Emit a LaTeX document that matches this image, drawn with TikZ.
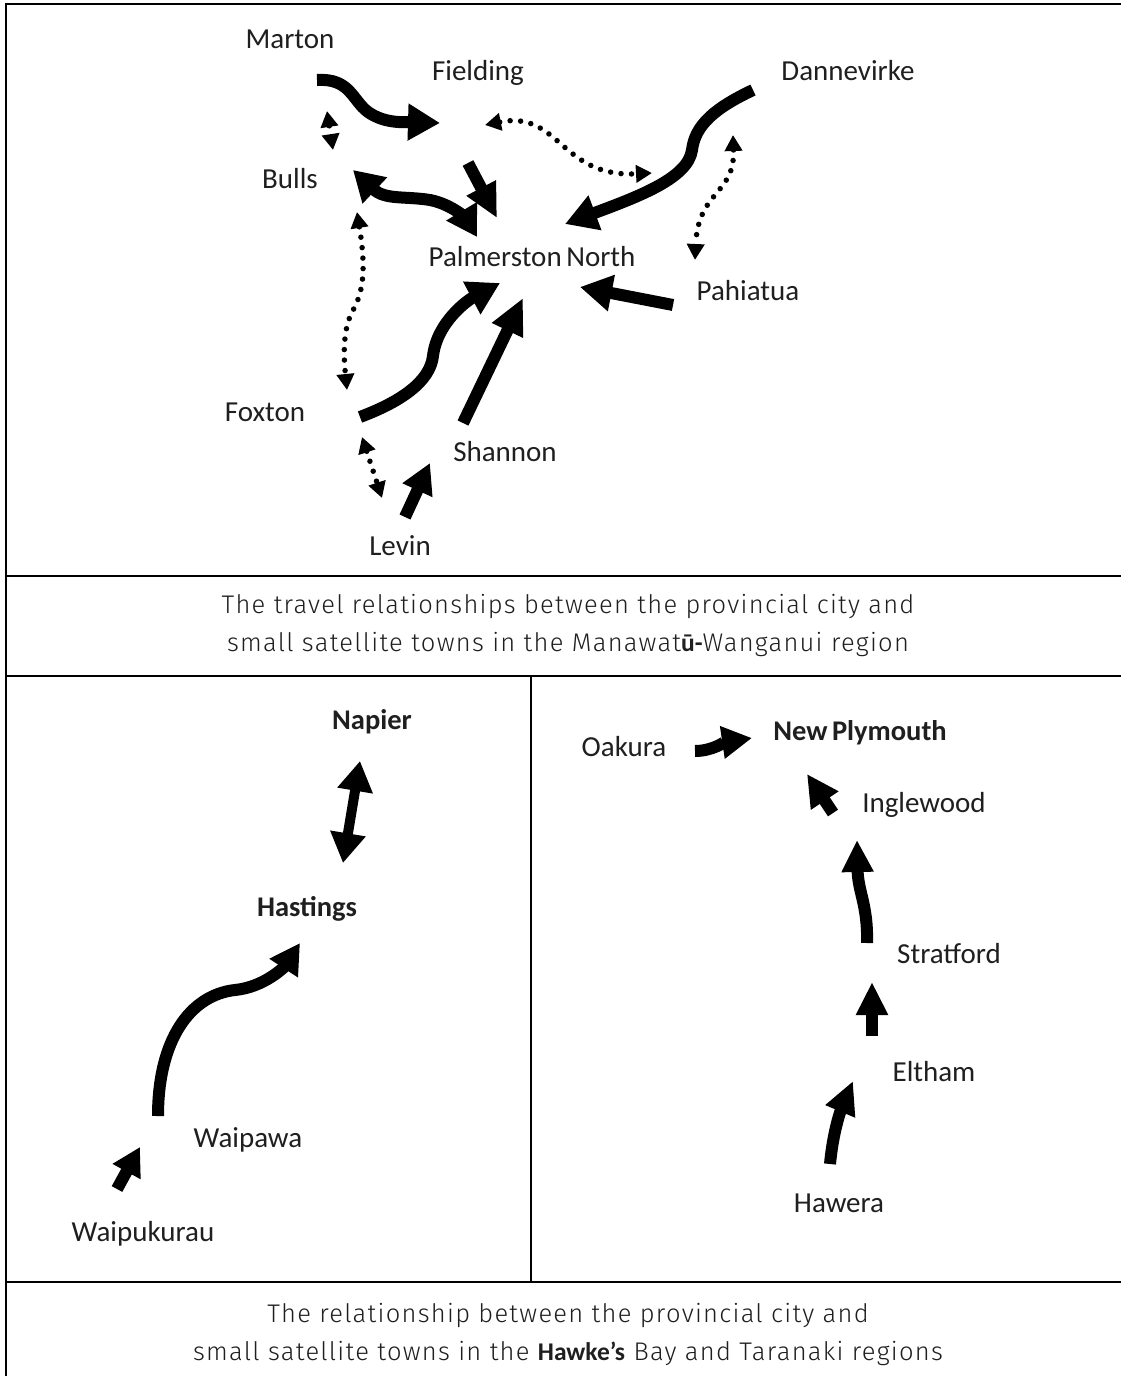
\documentclass[tikz,border=0pt]{standalone}
\usepackage{fontspec}
\setmainfont{Carlito}
\newfontfamily\capfont{Fira Sans Light}[LetterSpace=5]
\usetikzlibrary{arrows.meta}
\begin{document}
\begin{tikzpicture}[x=1bp,y=-1bp]
\tikzset{
  town/.style={anchor=base, inner sep=0pt, text=black!88, font=\fontsize{29bp}{32bp}\selectfont},
  city/.style={town, font=\fontsize{28.5bp}{32bp}\selectfont\bfseries},
  caption/.style={align=center, inner sep=0pt, text=black!88, font=\capfont\fontsize{25.5bp}{38bp}\selectfont},
  rule/.style={line width=2.2bp, black},
  fat/.style={line width=12bp, -{Triangle[length=32bp,width=35bp]}},
  fatboth/.style={line width=12bp, {Triangle[length=30bp,width=34bp]}-{Triangle[length=30bp,width=34bp]}},
  dots/.style={line width=5.5bp, line cap=round, dash pattern=on 0bp off 10.5bp,
    {Triangle[length=16bp,width=17bp]}-{Triangle[length=16bp,width=17bp]}},
}
\useasboundingbox (0,0) rectangle (1121,1376);
\fill[white] (0,0) rectangle (1121,1376);

% table rules
\draw[rule] (1121,4) -- (6,4) -- (6,1376);
\draw[rule] (6,576) -- (1121,576);
\draw[rule] (6,676) -- (1121,676);
\draw[rule] (531,676) -- (531,1282);
\draw[rule] (6,1282) -- (1121,1282);

% ---- Manawatu-Wanganui towns
\node[town] (marton) at (290,49) {Marton};
\node[town] (fielding) at (478,81) {Fielding};
\node[town] (dannevirke) at (848,81) {Dannevirke};
\node[town] (bulls) at (290,189) {Bulls};
\node[town] (palmerston) at (532,267) {Palmerston\hspace{-2bp} North};
\node[town] (pahiatua) at (748,300) {Pahiatua};
\node[town] (foxton) at (265,421) {Foxton};
\node[town] (shannon) at (505,461) {Shannon};
\node[town] (levin) at (400,555) {Levin};

% arrow end points
\coordinate (mtA) at (317,80);   \coordinate (mtB) at (440,123);
\coordinate (mbA) at (327,111);  \coordinate (mbB) at (333,150);
\coordinate (bpA) at (353,170);  \coordinate (bpB) at (477,237);
\coordinate (fpA) at (468,163);  \coordinate (fpB) at (497,218);
\coordinate (fdA) at (485,125);  \coordinate (fdB) at (652,173);
\coordinate (dpA) at (753,90);   \coordinate (dpB) at (565,224);
\coordinate (phA) at (733,135);  \coordinate (phB) at (695,260);
\coordinate (paA) at (673,305);  \coordinate (paB) at (580,287);
\coordinate (fxA) at (360,417);  \coordinate (fxB) at (500,283);
\coordinate (shA) at (463,423);  \coordinate (shB) at (523,298);
\coordinate (bfA) at (357,212);  \coordinate (bfB) at (347,390);
\coordinate (flA) at (362,437);  \coordinate (flB) at (382,498);
\coordinate (lvA) at (405,517);  \coordinate (lvB) at (430,463);

\draw[fat] (mtA) .. controls (350,78) and (352,100) .. (368,112)
                 .. controls (385,124) and (405,122) .. (mtB);
\draw[dots] (mbA) -- (mbB);
\draw[fatboth] (bpA) .. controls (385,200) and (405,196) .. (430,200)
                     .. controls (455,205) and (468,222) .. (bpB);
\draw[fat, -{Triangle[length=34bp,width=31bp]}] (fpA) -- (fpB);
\draw[dots] (fdA) .. controls (560,110) and (560,178) .. (fdB);
\draw[fat] (dpA) .. controls (715,108) and (695,125) .. (692,150)
                 .. controls (688,178) and (640,196) .. (dpB);
\draw[dots] (phA) .. controls (735,195) and (698,190) .. (phB);
\draw[fat] (paA) -- (paB);
\draw[fat] (fxA) .. controls (400,402) and (430,382) .. (433,356)
                 .. controls (437,322) and (468,300) .. (fxB);
\draw[fat, -{Triangle[length=36bp,width=32bp]}] (shA) -- (shB);
\draw[dots] (bfA) .. controls (366,268) and (364,292) .. (352,312)
                  .. controls (342,332) and (344,360) .. (bfB);
\draw[dots] (flA) -- (flB);
\draw[fat, -{Triangle[length=30bp,width=31bp]}] (lvA) -- (lvB);

\node[caption] (capA) at (568,626)
  {The travel relationships between the provincial city and\\
   small satellite towns in the Manawat{\normalfont\bfseries ū-}Wanganui region};

% ---- Hawke's Bay towns
\node[city] (napier) at (372,729) {Napier};
\node[city] (hastings) at (307,916) {Hastings};
\node[town] (waipawa) at (248,1147) {Waipawa};
\node[town] (waipukurau) at (143,1241) {Waipukurau};

\coordinate (nhA) at (360,761);  \coordinate (nhB) at (343,863);
\coordinate (whA) at (158,1116); \coordinate (whB) at (300,943);
\coordinate (wwA) at (117,1189); \coordinate (wwB) at (140,1147);

\draw[fatboth, line width=10bp] (nhA) -- (nhB);
\draw[fat, -{Triangle[length=30bp,width=32bp]}] (whA) .. controls (158,1040) and (190,995) .. (235,990)
                 .. controls (265,987) and (285,966) .. (whB);
\draw[fat, -{Triangle[length=28bp,width=30bp]}] (wwA) -- (wwB);

% ---- Taranaki towns
\node[city] (newplymouth) at (860,740) {New\hspace{-2bp} Plymouth};
\node[town] (oakura) at (624,756) {Oakura};
\node[town] (inglewood) at (924,812) {Inglewood};
\node[town] (stratford) at (949,963) {Stratford};
\node[town] (eltham) at (934,1081) {Eltham};
\node[town] (hawera) at (839,1212) {Hawera};

\coordinate (onA) at (695,751);  \coordinate (onB) at (752,738);
\coordinate (inA) at (833,813);  \coordinate (inB) at (807,774);
\coordinate (siA) at (867,943);  \coordinate (siB) at (857,840);
\coordinate (esA) at (872,1036); \coordinate (esB) at (872,982);
\coordinate (heA) at (830,1164); \coordinate (heB) at (853,1081);

\draw[fat, -{Triangle[length=30bp,width=31bp]}] (onA) .. controls (712,751) and (725,742) .. (onB);
\draw[fat, -{Triangle[length=32bp,width=31bp]}] (inA) -- (inB);
\draw[fat, -{Triangle[length=32bp,width=30bp]}] (siA) .. controls (868,905) and (858,892) .. (siB);
\draw[fat, -{Triangle[length=33bp,width=30bp]}] (esA) -- (esB);
\draw[fat, -{Triangle[length=33bp,width=30bp]}] (heA) .. controls (834,1122) and (845,1100) .. (heB);

\node[caption] (capB) at (568,1334)
  {The relationship between the provincial city and\\
   small satellite towns in the {\normalfont\bfseries Hawke’s} Bay and Taranaki regions};
\end{tikzpicture}
\end{document}
